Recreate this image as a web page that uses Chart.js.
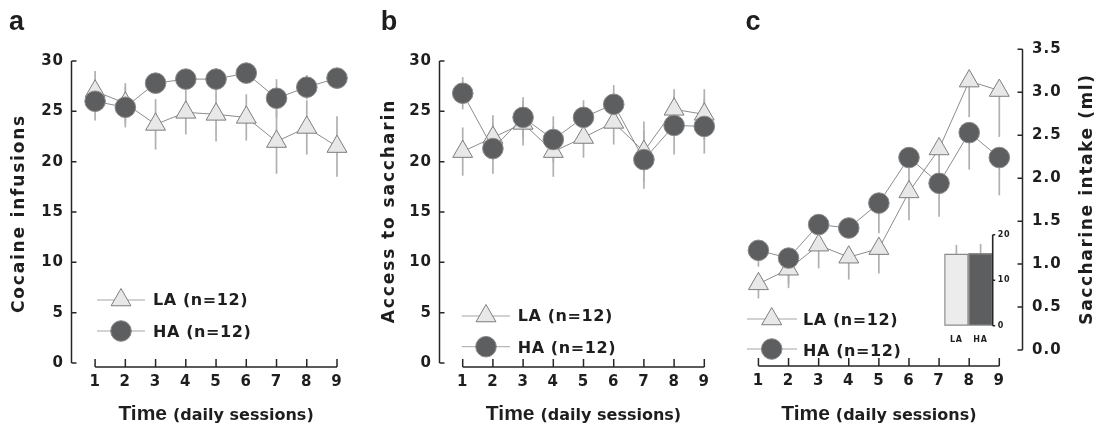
<!DOCTYPE html>
<html>
<head>
<meta charset="utf-8">
<script src="https://cdn.jsdelivr.net/npm/chart.js"></script>
<style>
  body { margin: 0; background: #fff; width: 1099px; height: 426px; position: relative; overflow: hidden; }
  canvas { position: absolute; top: 0; }
</style>
</head>
<body>
<canvas id="ca" width="366" height="426" style="left:0"></canvas>
<canvas id="cb" width="364" height="426" style="left:366px"></canvas>
<canvas id="cc" width="369" height="426" style="left:730px"></canvas>
<canvas id="ci" width="90" height="125" style="left:930px;top:225px"></canvas>
<script>
// sessions on the x axis
const sessions = [1, 2, 3, 4, 5, 6, 7, 8, 9];

// panel a: cocaine infusions
const cocaineLA = [27.0, 25.8, 23.7, 24.9, 24.7, 24.4, 22.0, 23.4, 21.5];
const cocaineLAErr = [2.0, 2.0, 2.5, 2.2, 2.7, 2.3, 3.2, 2.7, 3.0];
const cocaineHA = [26.0, 25.4, 27.8, 28.2, 28.2, 28.8, 26.3, 27.4, 28.3];
const cocaineHAErr = [1.9, 2.0, 0.9, 0.8, 1.1, 0.8, 1.9, 1.2, 0.8];

// panel b: access to saccharin
const accessLA = [21.0, 22.4, 23.8, 21.0, 22.4, 23.9, 21.0, 25.2, 24.7];
const accessLAErr = [2.4, 2.2, 2.2, 2.5, 2.0, 2.2, 3.0, 2.0, 2.5];
const accessHA = [26.8, 21.3, 24.4, 22.2, 24.4, 25.7, 20.2, 23.6, 23.5];
const accessHAErr = [1.6, 2.5, 2.0, 2.3, 1.7, 1.9, 2.9, 2.9, 2.7];

// panel c: saccharine intake (ml), error bars drawn downwards only
const intakeLA = [0.77, 0.94, 1.22, 1.08, 1.18, 1.84, 2.34, 3.13, 3.02];
const intakeLAErr = [0.17, 0.22, 0.27, 0.26, 0.29, 0.33, 0.35, 0.42, 0.54];
const intakeHA = [1.16, 1.07, 1.46, 1.42, 1.71, 2.24, 1.94, 2.53, 2.24];
const intakeHAErr = [0.19, 0.3, 0.1, 0.1, 0.35, 0.39, 0.39, 0.43, 0.44];

// inset bars in panel c
const insetGroups = ['LA', 'HA'];
const insetIntake = [15.8, 15.9];
const insetErr = [2.0, 2.1];

const countTicks = [0, 5, 10, 15, 20, 25, 30];
const mlTicks = [0, 0.5, 1, 1.5, 2, 2.5, 3, 3.5];
const insetTicks = [0, 10, 20];

const DJ = '"DejaVu Sans", sans-serif';
const LIB = '"Liberation Sans", Arial, sans-serif';
const INK = '#1e1e1e';
const TRI_FILL = '#e8e8e8', TRI_EDGE = '#7d7d7d';
const DOT_FILL = '#5d5e60', DOT_EDGE = '#8a8a8a';
const LINE = '#8c8c8c';
const ERR = '#b0b0b0';

const pairs = (vals) => sessions.map((s, i) => ({ x: s, y: vals[i] }));

function spacing(px) {
  return {
    id: 'spacing',
    beforeDraw(chart) { chart.ctx.letterSpacing = px; }
  };
}

const errorBars = {
  id: 'errorBars',
  beforeDatasetsDraw(chart) {
    const ctx = chart.ctx;
    const y = chart.scales.y;
    ctx.save();
    ctx.strokeStyle = ERR;
    ctx.lineWidth = 1.7;
    chart.data.datasets.forEach((ds, di) => {
      if (!ds.errors) return;
      const meta = chart.getDatasetMeta(di);
      ds.errors.forEach((e, i) => {
        const d = ds.data[i];
        const v = typeof d === 'object' ? d.y : d;
        const hi = ds.errMode === 'down' ? v : v + e;
        const lo = ds.errMode === 'up' ? v : v - e;
        const px = meta.data[i].x;
        ctx.beginPath();
        ctx.moveTo(px, y.getPixelForValue(hi));
        ctx.lineTo(px, y.getPixelForValue(lo));
        ctx.stroke();
      });
    });
    ctx.restore();
  }
};

function drawTri(ctx, x, y, r) {
  ctx.beginPath();
  ctx.moveTo(x, y - r);
  ctx.lineTo(x + 0.866 * r, y + 0.5 * r);
  ctx.lineTo(x - 0.866 * r, y + 0.5 * r);
  ctx.closePath();
  ctx.fillStyle = TRI_FILL; ctx.fill();
  ctx.strokeStyle = TRI_EDGE; ctx.lineWidth = 1; ctx.stroke();
}

function drawDot(ctx, x, y, r) {
  ctx.beginPath();
  ctx.arc(x, y, r, 0, Math.PI * 2);
  ctx.fillStyle = DOT_FILL; ctx.fill();
  ctx.strokeStyle = DOT_EDGE; ctx.lineWidth = 1; ctx.stroke();
}

// axes, legend and titles drawn around the Chart.js scales
function frame(c) {
  return {
    id: 'frame',
    afterDraw(chart) {
      const ctx = chart.ctx;
      const xs = chart.scales.x, ys = chart.scales.y, area = chart.chartArea;
      ctx.save();
      ctx.strokeStyle = '#262626';
      ctx.lineWidth = 1.5;
      // y axis with inward ticks
      const ax = c.yPos === 'left' ? area.left + 0.5 : area.right - 0.5;
      const dir = c.yPos === 'left' ? 1 : -1;
      ctx.beginPath();
      ctx.moveTo(ax, area.top);
      ctx.lineTo(ax, area.bottom);
      c.yTicks.forEach(v => {
        const py = ys.getPixelForValue(v);
        ctx.moveTo(ax, py);
        ctx.lineTo(ax + dir * 5, py);
      });
      // x axis from first to last session, ticks pointing up
      const x0 = xs.getPixelForValue(sessions[0]);
      const x1 = xs.getPixelForValue(sessions[sessions.length - 1]);
      ctx.moveTo(x0, c.xAxisY);
      ctx.lineTo(x1, c.xAxisY);
      sessions.forEach(s => {
        const px = xs.getPixelForValue(s);
        ctx.moveTo(px, c.xAxisY);
        ctx.lineTo(px, c.xAxisY - 8);
      });
      ctx.stroke();

      // legend
      const lg = c.legend;
      ctx.strokeStyle = '#a5a5a5';
      ctx.lineWidth = 1;
      ctx.beginPath();
      ctx.moveTo(lg.x0, lg.yLA); ctx.lineTo(lg.x1, lg.yLA);
      ctx.moveTo(lg.x0, lg.yHA); ctx.lineTo(lg.x1, lg.yHA);
      ctx.stroke();
      drawTri(ctx, lg.mx, lg.yLA, 11.5);
      drawDot(ctx, lg.mx, lg.yHA, 10.3);
      ctx.fillStyle = INK;
      ctx.textAlign = 'left';
      ctx.textBaseline = 'alphabetic';
      ctx.letterSpacing = '0.6px';
      ctx.font = 'bold 16px ' + DJ;
      ctx.fillText('LA (n=12)', lg.tx, lg.bLA);
      ctx.fillText('HA (n=12)', lg.tx, lg.bHA);

      // x title: "Time (daily sessions)"
      ctx.letterSpacing = '0px';
      ctx.font = 'bold 21px ' + LIB;
      const w1 = ctx.measureText('Time').width;
      ctx.font = 'bold 16px ' + DJ;
      const w2 = ctx.measureText('(daily sessions)').width;
      const gap = 6;
      let tx = (x0 + x1) / 2 - (w1 + gap + w2) / 2;
      ctx.font = 'bold 21px ' + LIB;
      ctx.fillText('Time', tx, 420);
      ctx.font = 'bold 16px ' + DJ;
      ctx.fillText('(daily sessions)', tx + w1 + gap, 420);

      // y title, reading bottom to top
      ctx.save();
      ctx.translate(c.yTitle.x, c.yTitle.y);
      ctx.rotate(-Math.PI / 2);
      ctx.textAlign = 'center';
      ctx.letterSpacing = c.yTitle.sp;
      ctx.font = 'bold 17px ' + DJ;
      ctx.fillText(c.yTitle.text, 0, 0);
      ctx.restore();

      // panel letter
      ctx.letterSpacing = '0px';
      ctx.textAlign = 'left';
      ctx.font = 'bold 27px ' + LIB;
      ctx.fillText(c.letter, c.letterX, 30);
      ctx.restore();
    }
  };
}

function makeLineChart(c) {
  const tickFont = { family: DJ, size: 15, weight: 'bold' };
  return new Chart(document.getElementById(c.id), {
    type: 'line',
    data: {
      datasets: [
        {
          label: 'HA (n=12)', data: pairs(c.ha), errors: c.haErr, errMode: c.errMode, order: 0,
          borderColor: LINE, borderWidth: 1, pointStyle: 'circle', pointRadius: 10.3,
          pointBackgroundColor: DOT_FILL, pointBorderColor: DOT_EDGE, pointBorderWidth: 1, clip: false
        },
        {
          label: 'LA (n=12)', data: pairs(c.la), errors: c.laErr, errMode: c.errMode, order: 1,
          borderColor: LINE, borderWidth: 1, pointStyle: 'triangle', pointRadius: 11.5,
          pointBackgroundColor: TRI_FILL, pointBorderColor: TRI_EDGE, pointBorderWidth: 1, clip: false
        }
      ]
    },
    options: {
      responsive: false,
      animation: false,
      events: [],
      layout: { padding: c.pad },
      plugins: { legend: { display: false }, tooltip: { enabled: false } },
      scales: {
        x: {
          type: 'linear', min: c.xMin, max: c.xMax,
          grid: { display: false, drawTicks: false }, border: { display: false },
          afterBuildTicks: (s) => { s.ticks = sessions.map(v => ({ value: v })); },
          afterFit: (s) => { s.height = c.xHeight; },
          ticks: { font: tickFont, color: INK, padding: c.xPad, maxRotation: 0, autoSkip: false, callback: (v) => String(v) }
        },
        y: {
          type: 'linear', position: c.yPos, min: c.yMin, max: c.yMax,
          grid: { display: false, drawTicks: false }, border: { display: false },
          afterBuildTicks: (s) => { s.ticks = c.yTicks.map(v => ({ value: v })); },
          afterFit: (s) => { s.width = c.yWidth; },
          ticks: { font: tickFont, color: INK, padding: c.yPad, autoSkip: false, callback: c.yFmt }
        }
      }
    },
    plugins: [spacing('1px'), errorBars, frame(c)]
  });
}

makeLineChart({
  id: 'ca', la: cocaineLA, laErr: cocaineLAErr, ha: cocaineHA, haErr: cocaineHAErr, errMode: 'both',
  pad: { left: 0, right: 29, top: 61, bottom: 0 }, yWidth: 71, xHeight: 63, yPos: 'left',
  xMin: 0.203, xMax: 9, yMin: 0, yMax: 30, yTicks: countTicks, yFmt: (v) => String(v),
  yPad: 7, xPad: 10.5, xAxisY: 367,
  yTitle: { text: 'Cocaine infusions', x: 24, y: 213.5, sp: '1.8px' },
  legend: { x0: 97, x1: 145, mx: 121, yLA: 300, yHA: 331, tx: 153, bLA: 305, bHA: 337 },
  letter: 'a', letterX: 9
});

makeLineChart({
  id: 'cb', la: accessLA, laErr: accessLAErr, ha: accessHA, haErr: accessHAErr, errMode: 'both',
  pad: { left: 0, right: 25.7, top: 61, bottom: 0 }, yWidth: 73, xHeight: 63, yPos: 'left',
  xMin: 0.215, xMax: 9, yMin: 0, yMax: 30, yTicks: countTicks, yFmt: (v) => String(v),
  yPad: 7, xPad: 10.5, xAxisY: 367,
  yTitle: { text: 'Access to saccharin', x: 28, y: 211, sp: '1.9px' },
  legend: { x0: 95.7, x1: 144, mx: 120, yLA: 316, yHA: 346.7, tx: 151.7, bLA: 321, bHA: 353 },
  letter: 'b', letterX: 14.7
});

makeLineChart({
  id: 'cc', la: intakeLA, laErr: intakeLAErr, ha: intakeHA, haErr: intakeHAErr, errMode: 'down',
  pad: { left: 15, right: 0, top: 49.3, bottom: 0 }, yWidth: 76, xHeight: 76, yPos: 'right',
  xMin: 0.5585, xMax: 9.787, yMin: 0, yMax: 3.5, yTicks: mlTicks, yFmt: (v) => v.toFixed(1),
  yPad: 9, xPad: 22.5, xAxisY: 366,
  yTitle: { text: 'Saccharine intake (ml)', x: 362, y: 199, sp: '1.6px' },
  legend: { x0: 17, x1: 67, mx: 41.7, yLA: 319, yHA: 349, tx: 73, bLA: 325, bHA: 356 },
  letter: 'c', letterX: 15.5
});

// inset bar chart
const insetFrame = {
  id: 'insetFrame',
  afterDraw(chart) {
    const ctx = chart.ctx, area = chart.chartArea, ys = chart.scales.y;
    ctx.save();
    ctx.strokeStyle = '#262626';
    ctx.lineWidth = 1.6;
    ctx.beginPath();
    ctx.moveTo(area.right, area.top);
    ctx.lineTo(area.right, area.bottom);
    insetTicks.forEach(v => {
      const py = ys.getPixelForValue(v);
      ctx.moveTo(area.right, py);
      ctx.lineTo(area.right + 2.5, py);
    });
    ctx.stroke();
    ctx.restore();
  }
};

new Chart(document.getElementById('ci'), {
  type: 'bar',
  data: {
    labels: insetGroups,
    datasets: [{
      data: insetIntake, errors: insetErr, errMode: 'up',
      backgroundColor: ['#ececec', DOT_FILL], borderColor: '#8a8a8a', borderWidth: 1.5,
      borderSkipped: false, barPercentage: 1, categoryPercentage: 1
    }]
  },
  options: {
    responsive: false,
    animation: false,
    events: [],
    layout: { padding: { left: 14.3, right: 0, top: 9.3, bottom: 0 } },
    plugins: { legend: { display: false }, tooltip: { enabled: false } },
    scales: {
      x: {
        grid: { display: false, drawTicks: false }, border: { display: false },
        afterFit: (s) => { s.height = 24.3; },
        ticks: { font: { family: DJ, size: 8, weight: 'bold' }, color: INK, padding: 9 }
      },
      y: {
        position: 'right', min: 0, max: 20,
        grid: { display: false, drawTicks: false }, border: { display: false },
        afterBuildTicks: (s) => { s.ticks = insetTicks.map(v => ({ value: v })); },
        afterFit: (s) => { s.width = 27.3; },
        ticks: { font: { family: DJ, size: 8, weight: 'bold' }, color: INK, padding: 5 }
      }
    }
  },
  plugins: [spacing('0.8px'), errorBars, insetFrame]
});
</script>
</body>
</html>
